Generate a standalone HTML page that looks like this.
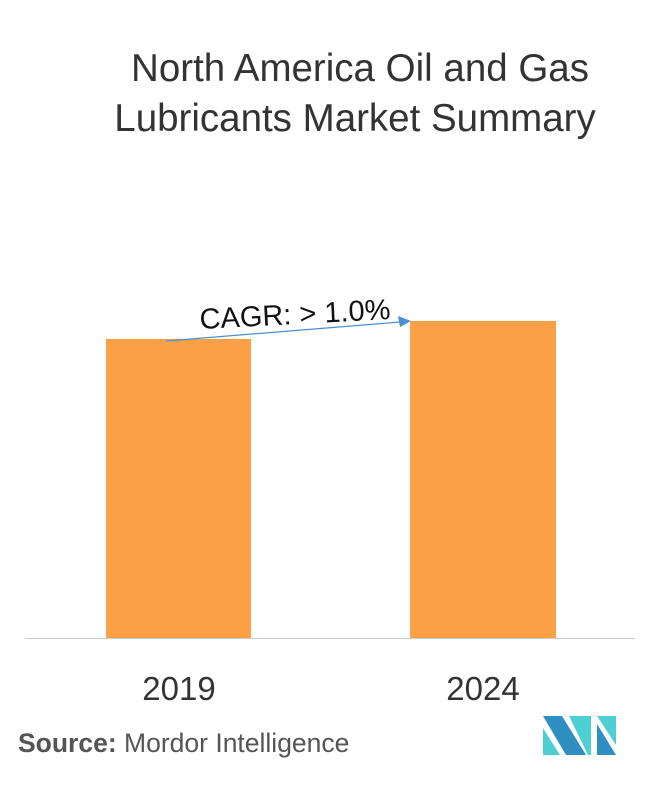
<!DOCTYPE html>
<html><head><style>
body{margin:0;width:658px;height:780px;background:#fff;overflow:hidden;font-family:"Liberation Sans",sans-serif;}
</style></head><body>
<svg width="658" height="780" xmlns="http://www.w3.org/2000/svg">
<text x="360" y="81" text-anchor="middle" font-family="Liberation Sans, sans-serif" font-size="38.5" fill="#333">North America Oil and Gas</text>
<text x="355" y="131" text-anchor="middle" font-family="Liberation Sans, sans-serif" font-size="38.5" fill="#333">Lubricants Market Summary</text>
<rect x="106" y="339" width="145" height="299" fill="#FBA047"/>
<rect x="410" y="321" width="146" height="317" fill="#FBA047"/>
<line x1="25" y1="638.5" x2="635" y2="638.5" stroke="#ccc" stroke-width="1"/>
<line x1="166" y1="341" x2="400" y2="322" stroke="#4a90d0" stroke-width="1.2"/>
<polygon points="411,321 398,316 400,327" fill="#4a90d0"/>
<text x="295" y="324" text-anchor="middle" font-family="Liberation Sans, sans-serif" font-size="29" fill="#111" transform="rotate(-3 295 315)">CAGR: &gt; 1.0%</text>
<text x="179" y="700" text-anchor="middle" font-family="Liberation Sans, sans-serif" font-size="33" fill="#333">2019</text>
<text x="483" y="700" text-anchor="middle" font-family="Liberation Sans, sans-serif" font-size="33" fill="#333">2024</text>
<text x="18" y="752" font-family="Liberation Sans, sans-serif" font-size="26.5" fill="#555"><tspan font-weight="bold">Source:</tspan> Mordor Intelligence</text>
<polygon points="543,716 562,716 586,755 566,755" fill="#2e8fc0"/>
<polygon points="543,728 560,755 543,755" fill="#4ecfd4"/>
<polygon points="569,716 591,716 591,755 588,755" fill="#4ecfd4"/>
<polygon points="597,716 616,716 616,745" fill="#4ecfd4"/>
<polygon points="597,724 616,755 597,755" fill="#2e8fc0"/>
</svg>
</body></html>
